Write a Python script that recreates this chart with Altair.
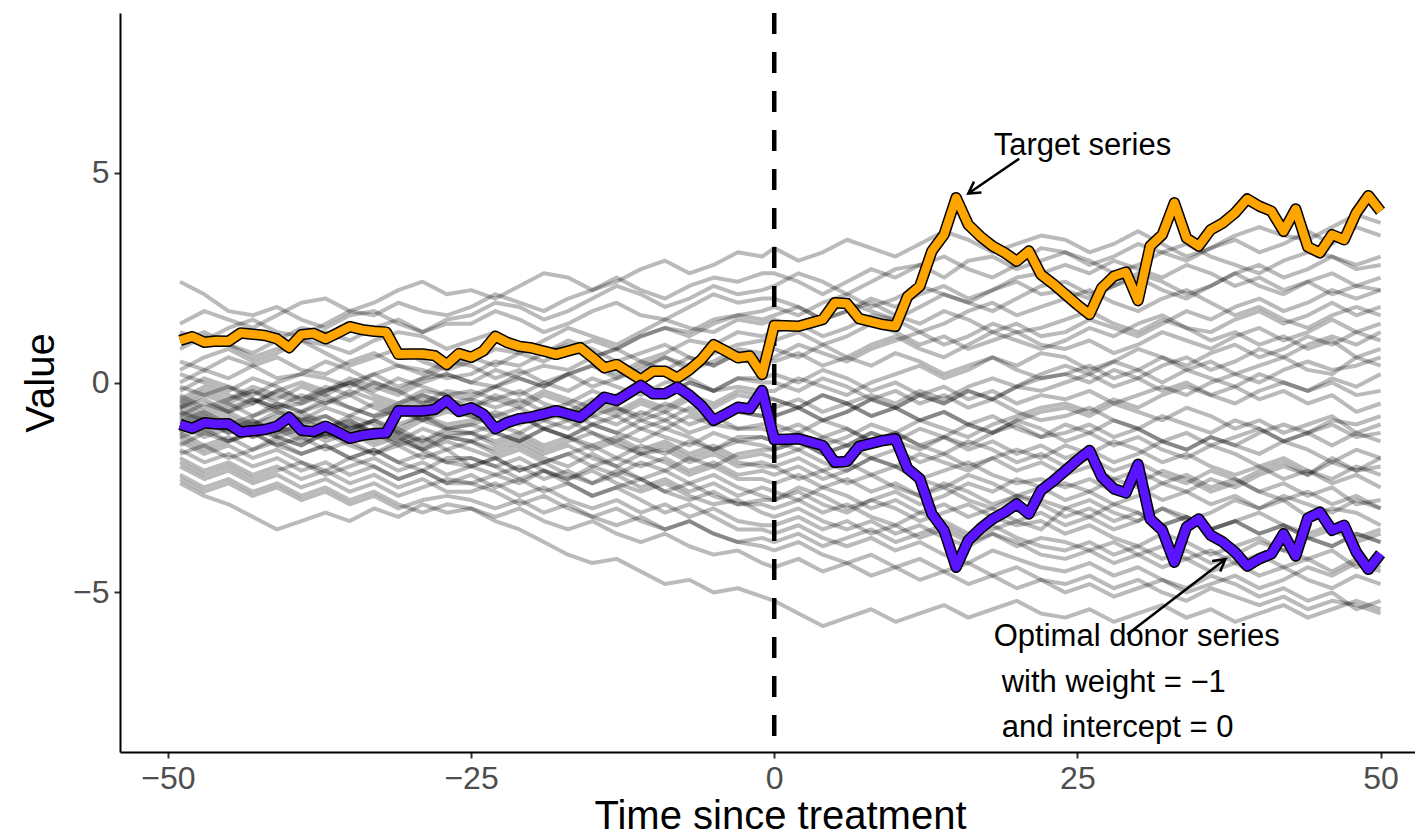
import math
import altair as alt
import pandas as pd

FONT = "Liberation Sans"

# ---------------- data ----------------
TREATMENT_T = 0
TARGET_T = list(range(-49, 51))
TARGET_PRE = [1.00, 1.09, 0.96, 0.99, 0.98, 1.18, 1.15, 1.12, 1.04, 0.83,
              1.14, 1.17, 1.04, 1.18, 1.33, 1.26, 1.22, 1.20, 0.67, 0.68,
              0.68, 0.64, 0.43, 0.69, 0.60, 0.75, 1.10, 0.95, 0.86, 0.82,
              0.75, 0.67, 0.75, 0.83, 0.60, 0.35, 0.43, 0.25, 0.07, 0.27,
              0.27, 0.11, 0.30, 0.55, 0.90, 0.75, 0.59, 0.63, 0.19]
TARGET_POST = [1.36, 1.35, 1.34, 1.42, 1.50, 1.90, 1.88, 1.52, 1.45, 1.38,
               1.34, 2.05, 2.29, 3.13, 3.52, 4.40, 3.76, 3.48, 3.25, 3.09,
               2.89, 3.13, 2.57, 2.35, 2.10, 1.85, 1.62, 2.25, 2.53, 2.63,
               1.95, 3.25, 3.52, 4.28, 3.44, 3.25, 3.64, 3.80, 4.04, 4.37,
               4.20, 4.08, 3.60, 4.13, 3.23, 3.09, 3.52, 3.40, 4.04, 4.45, 4.08]
DONOR_WEIGHT = -1
DONOR_INTERCEPT = 0

# donor pool (values in tenths), pre: t=-49,-47,...,-1 ; post: t=0,2,...,50
GRAY_T = list(range(-49, 0, 2)) + list(range(0, 51, 2))
GRAY_PRE = [
    [24,21,17,16,18,15,13,16,17,14,12,15,16,19,18,15,17,20,23,21,18,20,23,21,22],
    [14,17,15,13,16,19,20,17,19,22,24,21,22,20,23,26,25,22,24,27,29,26,28,31,30],
    [12,10,13,15,12,11,14,17,16,19,17,16,18,21,19,17,20,22,25,22,20,23,25,24,26],
    [10,12,9,6,8,10,7,4,6,8,5,3,5,8,7,10,13,11,9,12,15,13,12,15,14],
    [8,11,9,7,10,13,12,10,13,15,12,14,14,17,15,12,14,17,19,16,15,18,21,19,20],
    [5,3,6,4,1,2,5,3,0,-2,1,2,0,-1,2,4,3,6,8,5,7,10,9,12,11],
    [3,6,8,5,7,10,9,7,10,12,11,8,10,12,9,7,10,8,5,7,9,6,4,7,6],
    [2,0,-2,1,-1,-4,-2,0,-3,-5,-2,-3,-4,-1,-3,0,2,-1,1,4,6,3,5,8,7],
    [0,3,1,4,6,3,2,5,7,4,2,5,4,1,3,0,-2,1,-1,-3,0,1,-2,-1,-2],
    [-1,-3,-1,-4,-6,-5,-3,-6,-8,-7,-9,-6,-8,-10,-8,-11,-13,-10,-12,-14,-11,-13,-16,-14,-13],
    [-2,1,-1,-3,0,2,1,-1,2,4,3,1,2,5,4,7,9,6,8,11,13,12,15,16,17],
    [-3,-6,-4,-2,-5,-7,-5,-3,-6,-8,-5,-4,-6,-3,-5,-2,-4,-6,-3,-1,-3,0,-2,1,0],
    [-4,-7,-5,-8,-6,-9,-11,-8,-10,-12,-9,-11,-10,-12,-14,-11,-13,-15,-13,-16,-14,-17,-15,-18,-17],
    [-4,-1,-3,-5,-2,0,-2,1,-1,-3,0,2,0,3,1,-1,2,4,2,5,3,6,4,7,5],
    [-5,-8,-6,-4,-7,-9,-8,-11,-9,-12,-14,-11,-12,-15,-13,-16,-14,-12,-15,-17,-16,-19,-17,-20,-19],
    [-5,-2,-4,-1,-3,-5,-2,0,-2,1,-1,-3,-2,-4,-2,-5,-7,-4,-6,-8,-5,-7,-9,-7,-8],
    [-6,-9,-7,-10,-8,-11,-13,-10,-12,-15,-13,-16,-14,-17,-15,-18,-20,-17,-20,-23,-21,-24,-22,-25,-27],
    [-6,-4,-7,-5,-2,-4,-1,-3,0,-2,-5,-2,-3,-1,1,-1,2,4,1,3,6,4,7,9,10],
    [-7,-10,-8,-11,-9,-7,-10,-12,-9,-11,-8,-10,-9,-7,-9,-6,-8,-5,-7,-4,-6,-3,-5,-2,-3],
    [-7,-9,-12,-10,-13,-11,-14,-12,-15,-13,-16,-14,-16,-18,-16,-19,-17,-15,-18,-20,-18,-21,-19,-22,-21],
    [-8,-5,-7,-4,-6,-3,-5,-2,-4,-6,-3,-5,-4,-6,-4,-7,-5,-8,-6,-9,-7,-10,-8,-11,-11],
    [-8,-11,-9,-12,-10,-13,-11,-9,-12,-14,-11,-13,-12,-10,-12,-9,-11,-8,-10,-7,-9,-6,-8,-5,-6],
    [-9,-7,-10,-8,-5,-7,-4,-6,-8,-5,-3,-5,-6,-4,-6,-3,-5,-2,-4,-1,-3,0,-2,1,1],
    [-9,-12,-10,-13,-11,-14,-12,-15,-17,-14,-16,-19,-18,-20,-18,-21,-23,-21,-24,-26,-24,-27,-29,-28,-31],
    [-10,-13,-11,-9,-12,-10,-8,-11,-9,-6,-9,-7,-8,-10,-8,-11,-9,-12,-14,-11,-13,-15,-12,-14,-15],
    [-10,-8,-11,-9,-12,-10,-13,-11,-14,-12,-15,-13,-14,-16,-14,-17,-15,-18,-20,-17,-19,-22,-20,-23,-23],
    [-11,-9,-12,-10,-7,-9,-6,-8,-5,-7,-4,-6,-6,-8,-6,-9,-7,-10,-8,-11,-9,-12,-10,-11,-10],
    [-12,-15,-13,-16,-14,-17,-15,-18,-16,-19,-17,-19,-20,-18,-21,-19,-17,-20,-18,-15,-17,-14,-16,-13,-13],
    [-12,-9,-11,-13,-10,-8,-11,-9,-12,-10,-8,-11,-10,-8,-10,-7,-9,-6,-8,-5,-7,-4,-6,-3,-4],
    [-13,-16,-14,-12,-15,-17,-15,-18,-16,-19,-21,-18,-18,-20,-23,-21,-24,-27,-25,-28,-31,-29,-32,-35,-35],
    [-14,-17,-15,-18,-16,-19,-21,-18,-20,-23,-21,-24,-22,-25,-23,-26,-24,-27,-25,-23,-26,-28,-26,-29,-28],
    [-15,-12,-14,-11,-13,-15,-12,-10,-13,-11,-14,-12,-12,-14,-12,-15,-13,-16,-14,-17,-15,-18,-16,-19,-20],
    [-16,-19,-17,-20,-18,-21,-19,-22,-20,-23,-21,-24,-24,-26,-29,-27,-30,-32,-30,-33,-35,-33,-36,-38,-39],
    [-17,-15,-18,-16,-13,-15,-12,-14,-11,-13,-16,-13,-14,-12,-14,-11,-13,-10,-12,-9,-11,-8,-10,-7,-8],
    [-18,-21,-19,-22,-20,-23,-21,-24,-22,-25,-23,-26,-26,-24,-27,-25,-28,-30,-28,-31,-29,-32,-30,-33,-34],
    [-19,-22,-20,-23,-21,-19,-22,-20,-18,-21,-19,-22,-20,-22,-20,-23,-21,-24,-22,-25,-23,-26,-24,-27,-25],
    [-20,-23,-21,-24,-22,-25,-23,-26,-24,-27,-25,-23,-24,-22,-24,-21,-23,-20,-22,-19,-21,-18,-20,-17,-16],
    [-22,-25,-23,-26,-24,-27,-25,-28,-26,-29,-31,-29,-30,-32,-30,-33,-35,-33,-36,-38,-36,-39,-41,-40,-43],
    [-23,-26,-24,-27,-25,-28,-26,-29,-27,-30,-28,-27,-28,-30,-28,-31,-29,-32,-34,-32,-35,-33,-36,-38,-37],
    [-24,-27,-29,-32,-35,-33,-31,-33,-30,-32,-29,-31,-30,-33,-35,-38,-41,-43,-42,-45,-48,-47,-50,-49,-51],
    [-13,-11,-14,-12,-15,-13,-16,-14,-17,-15,-18,-16,-20,-18,-21,-19,-22,-24,-21,-23,-26,-24,-27,-29,-29],
    [-6,-3,-5,-2,-4,-1,-3,0,2,-1,1,4,6,4,7,5,8,10,8,11,13,11,14,16,15],
]
GRAY_POST = [
    [23,26,24,21,24,27,28,25,29,30,27,29,31,28,30,33,31,29,32,34,31,33,36,33,37,35],
    [32,29,31,34,32,30,33,36,34,31,33,35,34,31,33,36,33,30,32,35,37,35,34,37,40,38],
    [26,24,21,24,27,25,28,30,27,25,28,32,31,29,26,28,31,33,30,28,26,29,31,30,27,28],
    [15,13,16,19,17,15,18,21,19,17,20,23,24,21,23,26,24,21,23,26,28,25,27,30,28,30],
    [20,18,15,17,19,16,14,17,15,12,14,11,12,15,13,11,14,17,15,18,20,17,19,22,20,22],
    [12,14,11,13,16,15,12,14,17,19,16,18,20,22,19,17,20,22,19,16,18,15,13,16,18,16],
    [5,7,4,6,9,11,8,6,9,12,10,8,10,13,11,14,16,13,12,15,17,14,16,19,16,18],
    [8,6,9,6,4,7,5,2,4,6,3,1,2,4,1,3,6,4,7,9,6,8,11,9,12,10],
    [-2,1,-1,-3,0,2,4,1,3,6,4,7,6,3,5,8,6,3,5,2,4,6,3,2,6,4],
    [-14,-12,-15,-13,-10,-12,-9,-11,-13,-10,-8,-6,-5,-7,-4,-6,-3,-1,-3,-5,-2,0,-2,1,-1,2],
    [18,16,19,21,18,20,23,21,19,22,24,21,22,20,23,25,22,20,23,26,23,21,24,26,23,25],
    [0,-2,1,-1,-4,-2,-5,-3,-6,-4,-7,-9,-8,-6,-9,-11,-8,-10,-12,-9,-11,-14,-12,-10,-13,-12],
    [-18,-16,-19,-21,-18,-20,-23,-21,-19,-22,-24,-23,-25,-23,-26,-24,-21,-23,-26,-24,-21,-19,-22,-18,-21,-20],
    [6,9,7,5,8,10,12,9,11,14,12,13,15,17,14,12,15,13,10,12,9,11,8,10,6,8],
    [-20,-23,-21,-24,-22,-25,-27,-24,-26,-29,-27,-28,-30,-28,-31,-33,-30,-32,-35,-33,-31,-34,-36,-34,-37,-35],
    [-8,-6,-9,-7,-4,-6,-3,-5,-2,-4,-1,-2,0,2,-1,1,-2,0,-3,-1,-4,-2,-5,-3,-7,-5],
    [-28,-26,-29,-31,-28,-30,-33,-31,-29,-32,-34,-33,-36,-34,-37,-39,-36,-38,-41,-39,-37,-40,-42,-40,-44,-42],
    [10,12,9,11,14,12,9,11,8,10,12,9,8,10,7,9,12,10,8,11,13,10,12,15,12,14],
    [-4,-6,-3,-5,-8,-6,-9,-7,-10,-8,-11,-13,-12,-10,-13,-11,-14,-16,-13,-15,-17,-14,-16,-19,-16,-18],
    [-22,-20,-23,-21,-18,-20,-17,-19,-21,-18,-16,-18,-15,-17,-14,-16,-19,-17,-20,-22,-20,-23,-21,-24,-22,-25],
    [-12,-10,-13,-11,-14,-12,-15,-17,-14,-16,-19,-17,-20,-18,-21,-19,-22,-24,-21,-23,-26,-24,-27,-25,-29,-28],
    [-6,-4,-7,-5,-3,-5,-2,-4,-1,1,-1,2,4,2,5,3,0,3,1,-1,2,0,-2,0,-3,-2],
    [2,0,3,1,-2,0,-3,-1,-4,-2,-5,-3,-4,-2,-5,-3,-1,-3,0,2,0,3,5,3,4,6],
    [-32,-30,-33,-35,-33,-36,-34,-37,-39,-36,-38,-41,-42,-40,-43,-41,-44,-42,-45,-43,-46,-44,-47,-49,-46,-48],
    [-16,-14,-17,-15,-12,-14,-16,-13,-15,-12,-10,-13,-10,-12,-9,-11,-14,-12,-15,-13,-11,-14,-12,-15,-12,-14],
    [-24,-22,-25,-23,-26,-24,-27,-25,-28,-30,-27,-29,-32,-30,-33,-31,-34,-32,-35,-33,-36,-34,-37,-39,-36,-38],
    [-10,-12,-9,-11,-14,-12,-15,-13,-16,-14,-17,-15,-18,-16,-19,-17,-14,-16,-13,-15,-12,-10,-12,-9,-10,-8],
    [-14,-16,-13,-15,-18,-16,-19,-17,-20,-18,-21,-19,-22,-20,-23,-21,-24,-22,-25,-23,-26,-28,-26,-29,-27,-30],
    [-4,-6,-3,-5,-8,-6,-9,-7,-10,-12,-9,-11,-14,-12,-15,-13,-16,-18,-15,-17,-20,-18,-21,-23,-20,-22],
    [-36,-34,-37,-39,-37,-40,-38,-41,-43,-40,-42,-44,-45,-43,-46,-44,-47,-49,-46,-48,-51,-49,-52,-50,-54,-52],
    [-28,-25,-27,-30,-28,-26,-29,-27,-24,-26,-23,-25,-24,-26,-23,-25,-28,-26,-29,-27,-30,-28,-32,-30,-31,-34],
    [-20,-18,-21,-19,-22,-20,-23,-25,-22,-24,-27,-25,-28,-26,-29,-27,-24,-26,-23,-25,-22,-20,-22,-19,-21,-18],
    [-40,-38,-41,-43,-41,-44,-42,-45,-43,-46,-44,-47,-48,-46,-49,-47,-50,-52,-49,-51,-53,-51,-54,-52,-53,-55],
    [-8,-6,-9,-7,-4,-6,-3,-5,-2,-4,-1,1,2,0,3,1,4,6,3,5,8,6,9,11,9,12],
    [-34,-32,-35,-33,-36,-34,-37,-35,-38,-36,-39,-37,-38,-40,-38,-41,-39,-42,-40,-43,-41,-44,-42,-45,-42,-44],
    [-26,-28,-25,-27,-30,-28,-31,-29,-32,-30,-33,-31,-34,-32,-35,-33,-30,-33,-31,-28,-30,-27,-29,-31,-28,-30],
    [-16,-14,-17,-15,-12,-14,-11,-13,-10,-12,-9,-7,-6,-8,-5,-7,-9,-6,-8,-11,-9,-12,-10,-8,-12,-10],
    [-44,-42,-45,-43,-46,-44,-47,-45,-48,-46,-49,-47,-50,-48,-51,-49,-47,-50,-48,-46,-49,-47,-44,-46,-43,-45],
    [-38,-36,-39,-37,-35,-38,-36,-34,-37,-35,-33,-35,-30,-32,-29,-31,-34,-32,-35,-33,-36,-34,-37,-35,-38,-36],
    [-52,-55,-58,-56,-54,-57,-55,-53,-56,-54,-52,-55,-56,-54,-57,-55,-53,-56,-54,-57,-55,-53,-56,-54,-52,-54],
    [-30,-28,-31,-29,-32,-34,-31,-33,-36,-34,-37,-39,-40,-38,-41,-39,-42,-40,-43,-41,-38,-40,-37,-39,-36,-38],
    [16,18,15,17,20,18,21,23,20,22,25,26,28,26,29,27,25,28,26,23,25,22,24,21,23,22],
]

# annotations
LABEL_TARGET = "Target series"
LABEL_DONOR = ["Optimal donor series", "with weight = \u22121", "and intercept = 0"]
TEXT_X = [18.1, 18.1, 18.76, 18.76]
TEXT_TARGET_Y = 5.43
TEXT_DONOR_Y = -6.27
TEXT_LINE_STEP = 1.09
ARROW_TAIL_T = [20.2, 29.1]
ARROW_TAIL_V = [5.33, -6.0]
ARROW_HEAD_T = [16.0, 37.2]
ARROW_HEAD_V = [4.5, -4.21]

X_TICKS = [-50, -25, 0, 25, 50]
Y_TICKS = [-5, 0, 5]
X_DOMAIN = [-53.95, 52.84]
Y_DOMAIN = [-8.8, 8.8]
W, H = 1295, 739

ORANGE = "#FFA500"
PURPLE = "#5B14FF"

# ---------------- frames ----------------
gray_rows = []
for i, (pre, post) in enumerate(zip(GRAY_PRE, GRAY_POST)):
    for t, v in zip(GRAY_T, pre + post):
        gray_rows.append({"series": i, "t": t, "value": v / 10.0})
gray_df = pd.DataFrame(gray_rows)

target_vals = TARGET_PRE + TARGET_POST
target_df = pd.DataFrame({"t": TARGET_T, "value": target_vals})
donor_df = pd.DataFrame({"t": TARGET_T,
                         "value": [DONOR_WEIGHT * v + DONOR_INTERCEPT for v in target_vals]})

kx = W / (X_DOMAIN[1] - X_DOMAIN[0])
ky = H / (Y_DOMAIN[1] - Y_DOMAIN[0])
angles = []
for t0, v0, t1, v1 in zip(ARROW_TAIL_T, ARROW_TAIL_V, ARROW_HEAD_T, ARROW_HEAD_V):
    dx = (t1 - t0) * kx
    dy = -(v1 - v0) * ky
    angles.append(math.degrees(math.atan2(dx, -dy)) % 360)
arrow_df = pd.DataFrame({"t": ARROW_TAIL_T, "value": ARROW_TAIL_V,
                         "t2": ARROW_HEAD_T, "value2": ARROW_HEAD_V, "angle": angles})

text_df = pd.DataFrame({
    "t": TEXT_X,
    "value": [TEXT_TARGET_Y] + [TEXT_DONOR_Y - i * TEXT_LINE_STEP for i in range(3)],
    "label": [LABEL_TARGET] + LABEL_DONOR,
})

# ---------------- encodings ----------------
x_scale = alt.Scale(domain=X_DOMAIN, nice=False, zero=False)
y_scale = alt.Scale(domain=Y_DOMAIN, nice=False, zero=False)

common_axis = dict(grid=False, domainColor="black", domainWidth=2,
                   tickColor="#333333", tickWidth=2, tickSize=6,
                   labelFont=FONT, labelFontSize=32, labelColor="#4D4D4D",
                   titleFont=FONT, titleFontSize=40, titleColor="black",
                   titleFontWeight="normal", labelFlush=False)
x_axis = alt.Axis(values=X_TICKS, title="Time since treatment", labelPadding=5,
                  titlePadding=2, titleX=660, **common_axis)
y_axis = alt.Axis(values=Y_TICKS, title="Value", labelPadding=5, titlePadding=11,
                  **common_axis)


def X(field):
    return alt.X(field, type="quantitative", scale=x_scale, axis=x_axis)


def Y(field):
    return alt.Y(field, type="quantitative", scale=y_scale, axis=y_axis)


gray = alt.Chart(gray_df).mark_line(
    color="black", opacity=0.27, strokeWidth=4, strokeJoin="round"
).encode(x=X("t"), y=Y("value"), detail="series:N")

vline = alt.Chart(pd.DataFrame({"t": [TREATMENT_T]})).mark_rule(
    color="black", strokeWidth=4.5, strokeDash=[21, 18]
).encode(x=X("t"))


def thick(df, color):
    outline = alt.Chart(df).mark_line(color="black", strokeWidth=11.5,
                                      strokeJoin="round", strokeCap="butt").encode(
        x=X("t"), y=Y("value"))
    inner = alt.Chart(df).mark_line(color=color, strokeWidth=8.5,
                                    strokeJoin="round", strokeCap="butt").encode(
        x=X("t"), y=Y("value"))
    return outline + inner


target_layer = thick(target_df, ORANGE)
donor_layer = thick(donor_df, PURPLE)

shafts = alt.Chart(arrow_df).mark_rule(color="black", strokeWidth=2.5).encode(
    x=X("t"), y=Y("value"), x2="t2:Q", y2="value2:Q")
heads = alt.Chart(arrow_df).mark_point(
    shape="M -0.5 0.87 L 0 0 L 0.5 0.87", size=700, filled=False,
    color="black", strokeWidth=2.5, opacity=1
).encode(x=X("t2"), y=Y("value2"), angle=alt.Angle("angle:Q", scale=None))

texts = alt.Chart(text_df).mark_text(
    align="left", baseline="alphabetic", font=FONT, fontSize=31, color="black"
).encode(x=X("t"), y=Y("value"), text="label:N")

chart = alt.layer(
    gray, vline, target_layer, donor_layer, shafts, heads, texts
).properties(
    width=W, height=H,
    padding={"left": 120, "top": 13, "right": 0, "bottom": 84},
    autosize=alt.AutoSizeParams(type="none"),
    background="white",
).configure_view(stroke="transparent")

chart.save("out.html", embed_options={"renderer": "svg", "actions": False})
